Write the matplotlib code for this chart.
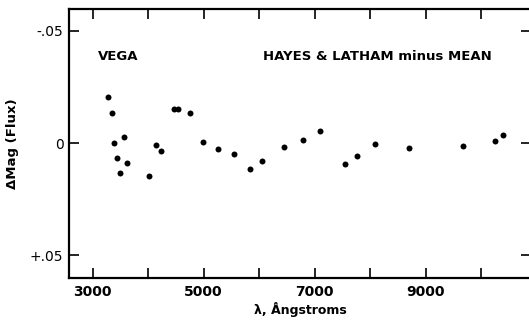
import matplotlib
matplotlib.use("Agg")
import matplotlib.pyplot as plt

wavelength = [3274, 3347, 3384, 3433, 3487, 3560, 3615, 4011, 4145, 4231,
              4462, 4547, 4748, 4992, 5266, 5546, 5839, 6052, 6442, 6783,
              7100, 7551, 7764, 8093, 8702, 9683, 10256, 10390]
dmag = [-0.0204, -0.0135, 0.0, 0.0067, 0.0135, -0.0025, 0.0087, 0.0145, 0.0010, 0.0037,
        -0.0151, -0.0153, -0.0133, -0.0006, 0.0025, 0.0049, 0.0117, 0.0082, 0.0016, -0.0012,
        -0.0052, 0.0094, 0.0060, 0.0004, 0.0021, 0.0013, -0.0007, -0.0037]

xticks = [3000, 4000, 5000, 6000, 7000, 8000, 9000, 10000]
xticklabels = ["3000", "", "5000", "", "7000", "", "9000", ""]
yticks = [-0.05, 0.0, 0.05]
yticklabels = ["-.05", "0", "+.05"]

plt.rcParams['font.family'] = ['DejaVu Sans']

fig = plt.figure(figsize=(5.29, 3.22), dpi=100)
ax = fig.add_axes([69/529, 1 - 278/322, (531 - 69)/529, (278 - 9.4)/322])

ax.plot(wavelength, dmag, 'o', color='black', markersize=4.3, markeredgewidth=0)

ax.set_xlim(2574, 10900)
ax.set_ylim(0.0602, -0.0596)

ax.set_xticks(xticks)
ax.set_xticklabels(xticklabels, fontweight='bold', fontsize=10)
ax.set_yticks(yticks)
ax.set_yticklabels(yticklabels, fontsize=10)

ax.tick_params(axis='both', direction='in', length=7.5, width=1.2,
               top=True, right=True, color='black')
ax.tick_params(axis='x', pad=5)
ax.tick_params(axis='y', pad=4)

for s in ax.spines.values():
    s.set_linewidth(1.6)

ax.set_xlabel("λ, Ångstroms", fontweight='bold', fontsize=9, labelpad=2)
ax.set_ylabel("ΔMag (Flux)", fontweight='bold', fontsize=9.5, labelpad=8)

ax.text(3091, -0.0385, "VEGA", fontweight='bold', fontsize=9.5, va='center', ha='left')
ax.text(6077, -0.0385, "HAYES & LATHAM minus MEAN", fontweight='bold', fontsize=9.5,
        va='center', ha='left')

fig.savefig("out.png", dpi=100)
